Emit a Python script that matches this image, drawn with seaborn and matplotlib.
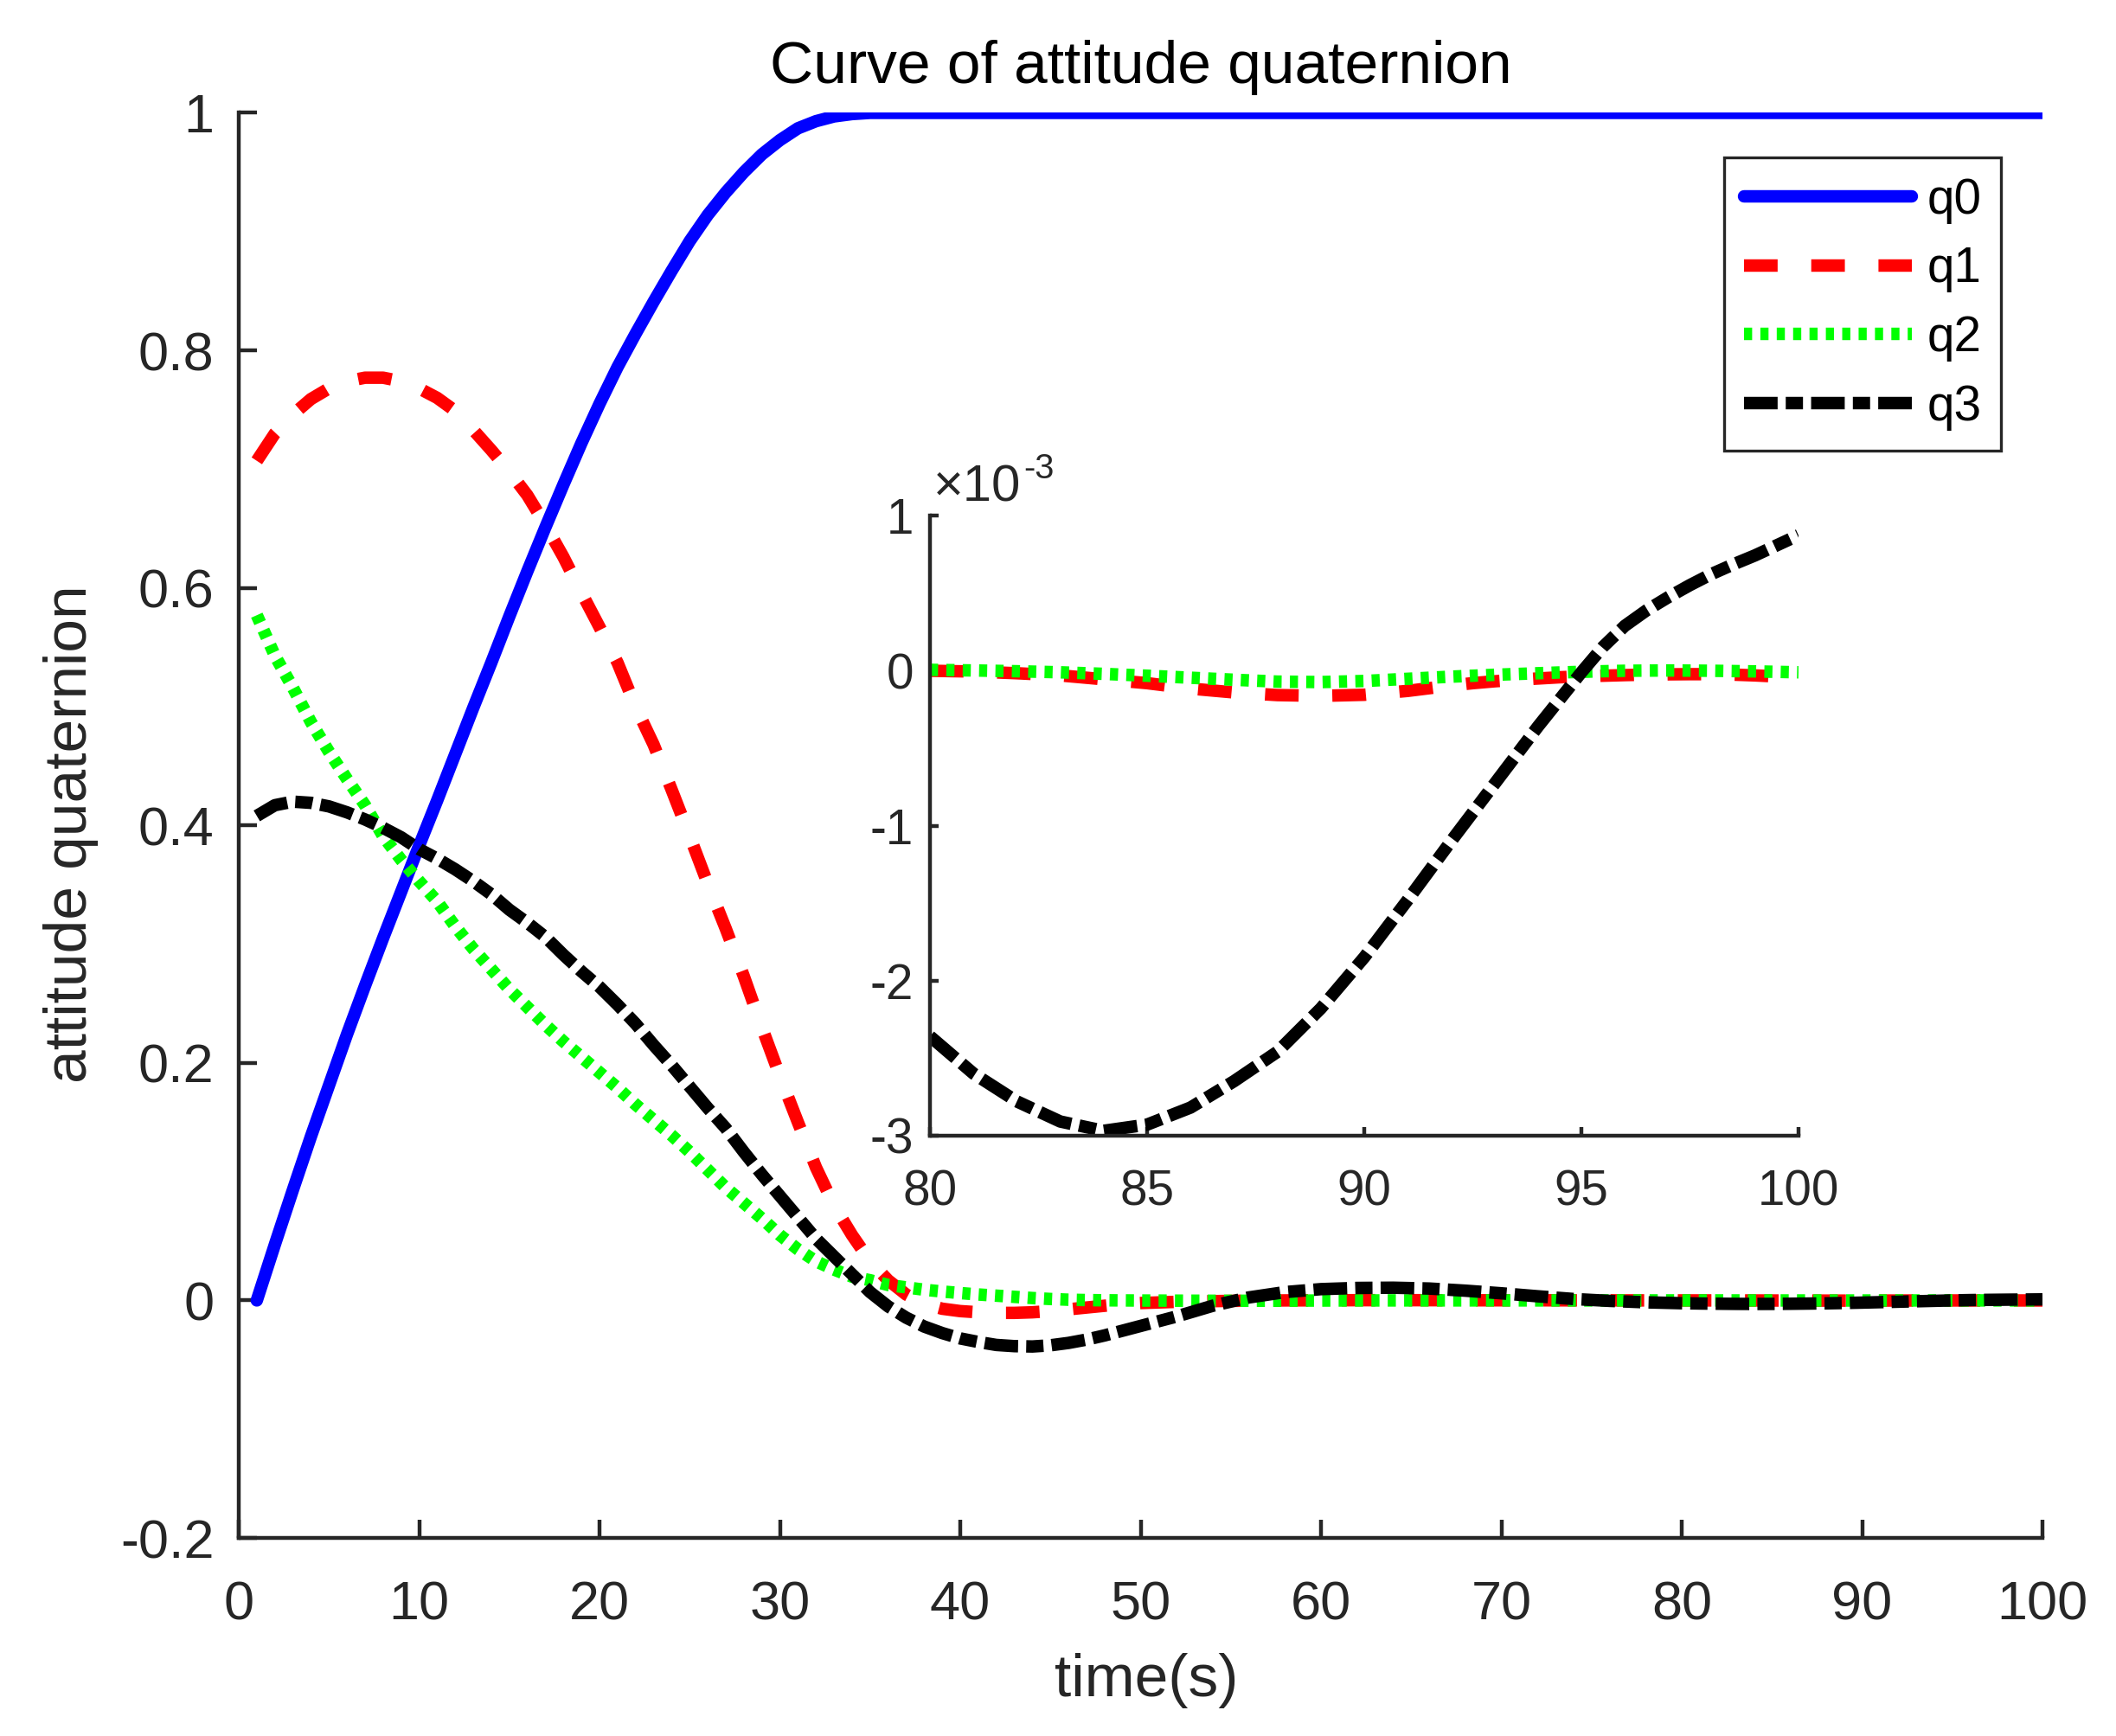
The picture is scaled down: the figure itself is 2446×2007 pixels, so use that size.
import matplotlib
matplotlib.use("Agg")
import matplotlib.pyplot as plt
import seaborn as sns
from matplotlib.ticker import FuncFormatter

# ---------------- data ----------------
time_s = [1, 2, 3, 4, 5, 6, 7, 8, 9, 10,
          11, 12, 13, 14, 15, 16, 17, 18, 19, 20,
          21, 22, 23, 24, 25, 26, 27, 28, 29, 30,
          31, 32, 33, 34, 35, 36, 37, 38, 39, 40,
          41, 42, 43, 44, 45, 46, 47, 48, 49, 50,
          52, 54, 56, 58, 60, 62, 64, 66, 68, 70, 72, 74, 76, 78,
          80, 81, 82, 83, 84, 85, 86, 87, 88, 89, 90, 91,
          92, 92.5, 93, 93.5, 94, 94.5, 95, 95.5, 96, 96.5, 97, 97.5,
          98, 98.5, 99, 99.5, 100]

q0 = [0.000, 0.047, 0.093, 0.138, 0.181, 0.224, 0.265, 0.305, 0.344, 0.383,
      0.421, 0.460, 0.499, 0.537, 0.576, 0.614, 0.651, 0.687, 0.722, 0.755,
      0.786, 0.814, 0.841, 0.867, 0.892, 0.914, 0.933, 0.950, 0.965, 0.977,
      0.987, 0.993, 0.997, 0.999, 1.000, 1.000, 1.000, 1.000, 1.000, 1.000,
      1.000, 1.000, 1.000, 1.000, 1.000, 1.000, 1.000, 1.000, 1.000, 1.000,
      1.000, 1.000, 1.000, 1.000, 1.000, 1.000, 1.000, 1.000, 1.000, 1.000,
      1.000, 1.000, 1.000, 1.000,
      1.000, 1.000, 1.000, 1.000, 1.000, 1.000, 1.000, 1.000, 1.000, 1.000,
      1.000, 1.000,
      1.000, 1.000, 1.000, 1.000, 1.000, 1.000, 1.000, 1.000, 1.000, 1.000,
      1.000, 1.000, 1.000, 1.000, 1.000, 1.000, 1.000]

q1 = [0.707, 0.730, 0.746, 0.759, 0.768, 0.774, 0.777, 0.777, 0.774, 0.768,
      0.760, 0.749, 0.733, 0.716, 0.698, 0.678, 0.653, 0.626, 0.596, 0.567,
      0.537, 0.500, 0.468, 0.430, 0.391, 0.351, 0.313, 0.273, 0.230, 0.189,
      0.150, 0.112, 0.080, 0.055, 0.033, 0.017, 0.005, -0.003, -0.007, -0.009,
      -0.010, -0.0105, -0.0105, -0.0100, -0.0090, -0.0075, -0.0060, -0.0045, -0.0030, -0.0022,
      -0.0012, -0.0006, -0.0002, 0.0, 0.0001, 0.0002, 0.0002, 0.0002, 0.0001, 0.0001,
      0.0001, 0.00005, 0.00003, 0.00001,
      0.0, -0.000005, -0.000016, -0.00003, -0.000055, -0.00008, -0.000115, -0.00014,
      -0.000157, -0.000162, -0.000155, -0.00013,
      -0.000095, -0.00008, -0.000068, -0.000058, -0.00005, -0.000042, -0.000036,
      -0.000032, -0.000028, -0.000025, -0.000023, -0.000022, -0.000022, -0.000025,
      -0.00003, -0.000037, -0.000045]

q2 = [0.577, 0.543, 0.516, 0.487, 0.462, 0.439, 0.417, 0.391, 0.371, 0.353,
      0.336, 0.315, 0.296, 0.279, 0.262, 0.247, 0.232, 0.218, 0.205, 0.192,
      0.179, 0.165, 0.152, 0.139, 0.125, 0.110, 0.095, 0.082, 0.069, 0.055,
      0.043, 0.033, 0.026, 0.020, 0.017, 0.013, 0.011, 0.009, 0.0075, 0.0062,
      0.0050, 0.0040, 0.0030, 0.0020, 0.0012, 0.0006, 0.0003, 0.0001, 0.0, -0.0001,
      -0.0002, -0.0003, -0.0003, -0.0002, -0.0001, -0.00005, 0.0, 0.00002, 0.00002, 0.00001,
      0.0, 0.0, 0.0, 0.0,
      0.000006, 0.000002, -0.000003, -0.00001, -0.00002, -0.000032, -0.000045, -0.000058,
      -0.00007, -0.000073, -0.000066, -0.000052,
      -0.000038, -0.000032, -0.000026, -0.000021, -0.000016, -0.000011, -0.000007,
      -0.000003, 0.0, 0.000001, 0.000002, 0.000001, 0.0, -0.000002,
      -0.000004, -0.000007, -0.00001]

q3 = [0.408, 0.417, 0.420, 0.419, 0.416, 0.411, 0.405, 0.398, 0.390, 0.380,
      0.372, 0.363, 0.353, 0.342, 0.329, 0.318, 0.306, 0.291, 0.277, 0.264,
      0.249, 0.233, 0.215, 0.198, 0.180, 0.162, 0.145, 0.125, 0.106, 0.088,
      0.070, 0.052, 0.037, 0.022, 0.007, -0.005, -0.0145, -0.022, -0.0275, -0.032,
      -0.035, -0.0375, -0.0385, -0.0388, -0.0378, -0.0358, -0.033, -0.0295, -0.0255, -0.0215,
      -0.0135, -0.0045, 0.0025, 0.007, 0.0095, 0.0105, 0.0107, 0.0100, 0.0082, 0.006,
      0.0035, 0.0012, -0.0004, -0.0016,
      -0.00236, -0.0026, -0.00278, -0.00291, -0.00297, -0.00293, -0.00282, -0.00265,
      -0.00246, -0.00218, -0.00185, -0.00148,
      -0.0011, -0.000915, -0.00073, -0.000545, -0.00036, -0.000185, -0.00001,
      0.000155, 0.00029, 0.00039, 0.000475, 0.000553, 0.000625, 0.000687,
      0.000745, 0.00081, 0.000875]

series_labels = ["q0", "q1", "q2", "q3"]
x_ticks = [0, 10, 20, 30, 40, 50, 60, 70, 80, 90, 100]
y_ticks = [-0.2, 0, 0.2, 0.4, 0.6, 0.8, 1.0]
inset_x_ticks = [80, 85, 90, 95, 100]
inset_y_ticks = [-0.003, -0.002, -0.001, 0.0, 0.001]
inset_start = 80

# ---------------- style ----------------
sns.set_style("ticks")
plt.rcParams["font.family"] = ["Liberation Sans", "DejaVu Sans"]
plt.rcParams["axes.unicode_minus"] = False

AX_COLOR = "#262626"
LW = 5.2
line_styles = {
    "q0": dict(color=(0, 0, 1), linestyle="-"),
    "q1": dict(color=(1, 0, 0), linestyle=(0, (2.69, 2.69))),
    "q2": dict(color=(0, 1, 0), linestyle=(0, (0.65, 0.66))),
    "q3": dict(color=(0, 0, 0), linestyle=(0, (2.69, 0.65, 1.38, 0.65))),
}
all_series = {"q0": q0, "q1": q1, "q2": q2, "q3": q3}

fig = plt.figure(figsize=(12.23, 10.035), dpi=200)
ax = fig.add_axes([0.11284, 0.11410, 0.85241, 0.82088])

for name in series_labels:
    sns.lineplot(x=time_s, y=all_series[name], ax=ax, estimator=None, sort=False,
                 errorbar=None, legend=False, linewidth=LW, label=name,
                 **line_styles[name])


def style_axes(a, lsize, xpad, ypad, tlen):
    for s in ["top", "right"]:
        a.spines[s].set_visible(False)
    for s in ["left", "bottom"]:
        a.spines[s].set_visible(True)
        a.spines[s].set_linewidth(1.6)
        a.spines[s].set_color(AX_COLOR)
    a.tick_params(direction="in", length=tlen, width=1.6, colors=AX_COLOR,
                  labelsize=lsize)
    a.tick_params(axis="x", pad=xpad)
    a.tick_params(axis="y", pad=ypad)
    a.set_facecolor("white")
    a.grid(False)


ax.set_xlim(0, 100)
ax.set_ylim(-0.2, 1.0)
ax.set_xticks(x_ticks)
ax.set_yticks(y_ticks)
ax.xaxis.set_major_formatter(FuncFormatter(lambda v, p: f"{round(v, 6):g}"))
ax.yaxis.set_major_formatter(FuncFormatter(lambda v, p: f"{round(v, 6):g}"))
style_axes(ax, 22.7, 17.6, 10.3, 7.6)

ax.set_title("Curve of attitude quaternion", fontsize=25, color="black",
             y=1.0209, pad=0)
ax.set_xlabel("time(s)", fontsize=25, color=AX_COLOR)
ax.xaxis.set_label_coords(0.503, -0.0807)
ax.set_ylabel("attitude quaternion", fontsize=25, color=AX_COLOR)
ax.yaxis.set_label_coords(-0.0775, 0.494)

handles = ax.get_lines()[:4]
leg = ax.legend(handles, series_labels, loc="upper right",
                bbox_to_anchor=(2313 / 2446, 1 - 182 / 2007),
                bbox_transform=fig.transFigure, borderaxespad=0,
                fontsize=20.4, handlelength=3.43, handletextpad=0.3,
                borderpad=0.4, labelspacing=0.455, fancybox=False,
                framealpha=1, edgecolor=AX_COLOR)
leg.get_frame().set_linewidth(1.2)
for t in leg.get_texts():
    t.set_color("black")

# ---------------- inset ----------------
ax_in = fig.add_axes([0.43949, 0.34594, 0.41047, 0.35690])
i0 = time_s.index(inset_start)
for name in ["q1", "q2", "q3"]:
    sns.lineplot(x=time_s[i0:], y=all_series[name][i0:], ax=ax_in, estimator=None,
                 sort=False, errorbar=None, legend=False, linewidth=LW,
                 **line_styles[name])
ax_in.set_xlim(80, 100)
ax_in.set_ylim(-0.003, 0.001)
ax_in.set_xticks(inset_x_ticks)
ax_in.set_yticks(inset_y_ticks)
ax_in.xaxis.set_major_formatter(FuncFormatter(lambda v, p: f"{round(v, 6):g}"))
ax_in.yaxis.set_major_formatter(FuncFormatter(lambda v, p: f"{round(v * 1e3, 6):g}"))
ax_in.set_xlabel("")
ax_in.set_ylabel("")
style_axes(ax_in, 20.4, 14.0, 6.8, 3.6)

t1 = ax_in.text(0.004, 1.0229, "×10", transform=ax_in.transAxes, fontsize=21.5,
                color=AX_COLOR, ha="left", va="baseline")
ax_in.annotate("-3", xy=(1, 1), xycoords=t1, xytext=(1, 4.9),
               textcoords="offset points", ha="left", va="top",
               fontsize=14.3, color=AX_COLOR)

fig.savefig("out.png", dpi=200)
